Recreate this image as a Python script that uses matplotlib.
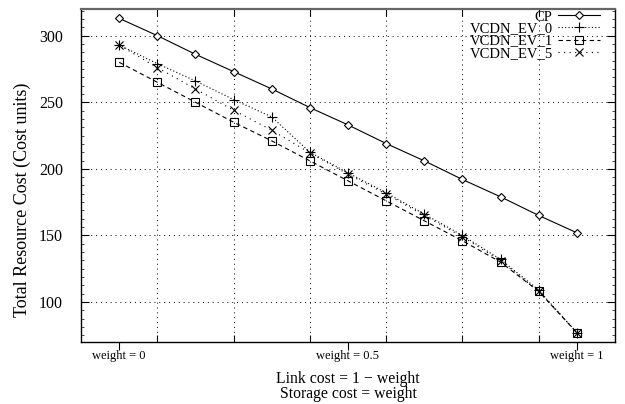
import matplotlib
matplotlib.use("Agg")
import matplotlib.pyplot as plt
from matplotlib.ticker import AutoMinorLocator, FixedLocator

plt.rcParams['font.family'] = ['Liberation Serif', 'DejaVu Serif']

steps = list(range(13))
cp = [313, 300, 286, 273, 260, 246, 233, 219, 206, 192, 179, 165, 152]
ev0 = [293, 279, 266, 252, 239, 212.5, 197, 182, 166, 150, 132, 109, 77]
ev1 = [280, 265, 250, 235, 221, 206, 191, 176, 161, 146, 130, 108, 77]
ev5 = [293, 276, 260, 244, 229, 212, 196, 181, 165, 149, 131, 108, 77]
series_labels = ["CP", "VCDN_EV_0", "VCDN_EV_1", "VCDN_EV_5"]
weight_tick_pos = [0, 6, 12]
weight_tick_labels = ["weight = 0", "weight = 0.5", "weight = 1"]
grid_x = [1, 3, 5, 7, 9, 11]
y_ticks = [100, 150, 200, 250, 300]

fig = plt.figure(figsize=(6.25, 4.04), dpi=100)
ax = fig.add_axes([81/625, 1-342/404, (615-81)/625, (342-9)/404])

lw = 0.8
ax.plot(steps, cp, color='black', lw=lw, ls='-', marker='D', ms=4.5,
        mfc='white', mec='black', mew=0.8, label=series_labels[0], zorder=5)
ax.plot(steps, ev0, color='black', lw=lw, ls=(0, (1, 2)), marker='+', ms=7,
        mew=0.8, label=series_labels[1], zorder=4)
ax.plot(steps, ev1, color='black', lw=lw, ls=(0, (4, 3)), marker='s', ms=6,
        mfc='none', mec='black', mew=0.8, label=series_labels[2], zorder=4)
ax.plot(steps, ev5, color='black', lw=lw, ls=(0, (1, 4)), marker='x', ms=6,
        mew=0.8, label=series_labels[3], zorder=4)

ax.set_xlim(-1, 13)
ax.set_ylim(70, 320)

ax.xaxis.set_major_locator(FixedLocator(grid_x))
ax.set_xticklabels([''] * len(grid_x))
ax.set_xticks(weight_tick_pos, minor=True)
ax.set_xticklabels(weight_tick_labels, minor=True, fontsize=9)
ax.tick_params(axis='x', which='major', direction='in', length=5, top=True, width=0.8)
ax.tick_params(axis='x', which='minor', direction='out', length=6, top=False,
               width=0.8, pad=0)

ax.set_yticks(y_ticks)
ax.yaxis.set_minor_locator(AutoMinorLocator(8))
ax.tick_params(axis='y', which='major', direction='in', length=6, right=True,
               labelsize=11.5, width=0.8, pad=13)
ax.tick_params(axis='y', which='minor', direction='in', length=2.5, right=True, width=0.5)

ax.grid(True, which='major', color='black', ls=(0, (1, 4)), lw=0.7)

for s in ax.spines.values():
    s.set_linewidth(1.0)
ax.spines['top'].set_color('#666666')
ax.spines['top'].set_linewidth(1.6)

ax.set_ylabel("Total Resource Cost (Cost units)", fontsize=13)
ax.yaxis.set_label_coords((31 - 81) / 534, (342 - 200) / 333)
ax.set_xlabel("Link cost = 1 \u2212 weight\nStorage cost = weight", fontsize=11.3,
              labelpad=6, linespacing=0.95)

leg = ax.legend(loc='upper right', bbox_to_anchor=(0.972, 0.996), frameon=False,
                markerfirst=False, fontsize=10.5, handlelength=2.9,
                labelspacing=-0.08, handletextpad=0.35, borderaxespad=0.0,
                borderpad=0.0)

fig.savefig("out.png", dpi=100)
